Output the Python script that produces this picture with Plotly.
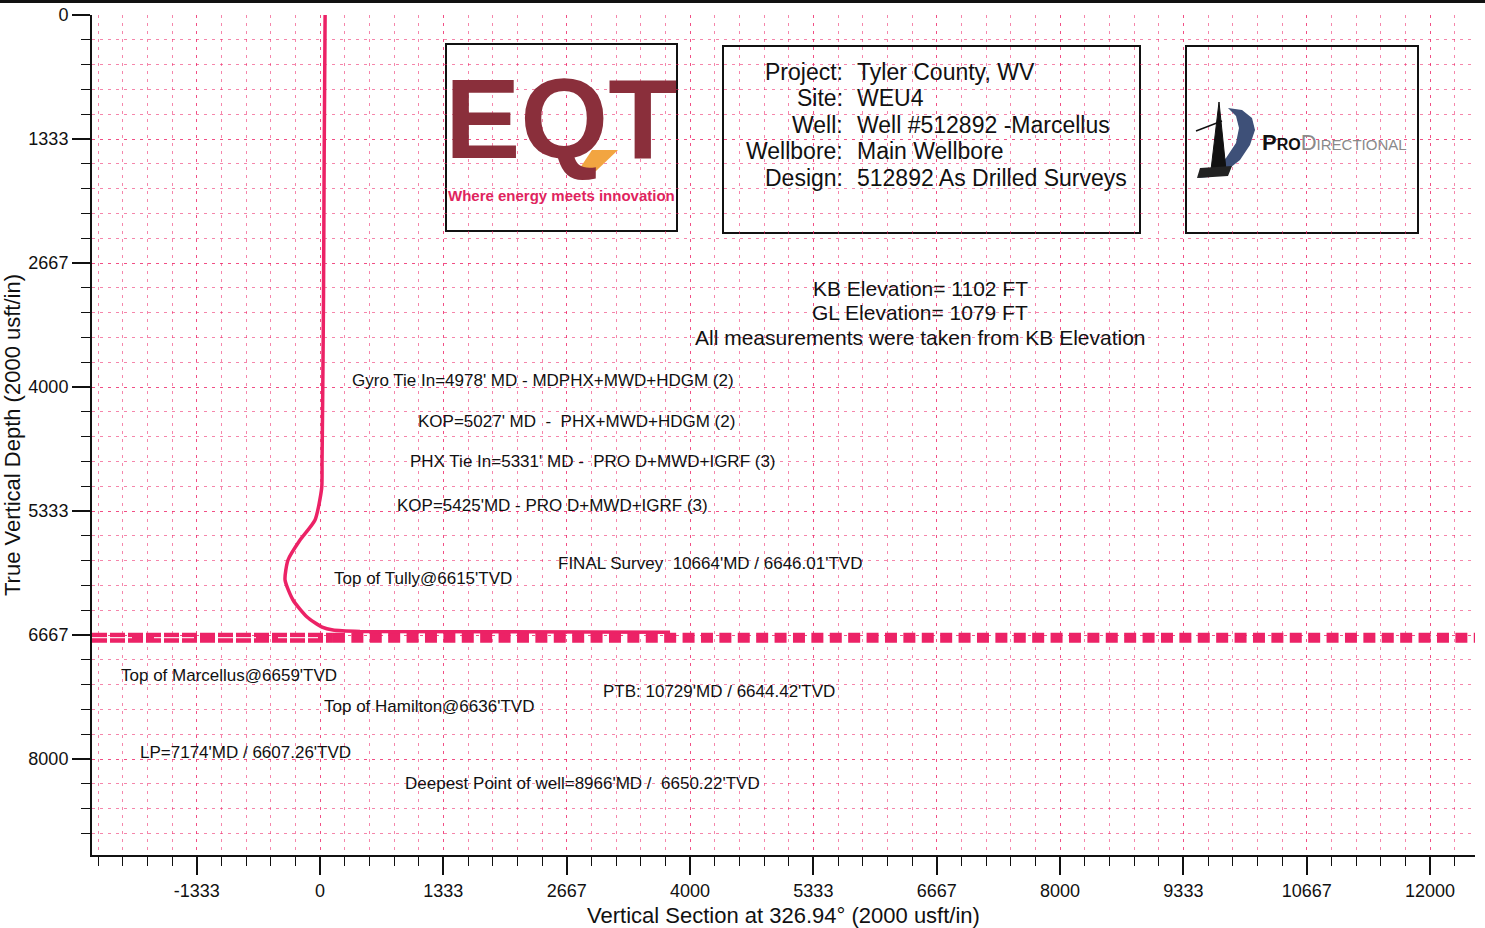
import plotly.graph_objects as go

# ---------------- data ----------------
well_vs = [55, 45, 38, 30, 22, 18, -54, -216, -346, -378, -292, -140, 22, 140, 432, 3784]
well_tvd = [0, 1500, 3000, 4000, 4800, 5086, 5430, 5645, 5860, 6075, 6290, 6473, 6581, 6613, 6628, 6638]

target_tvd = 6695
target_split_vs = 140

x_tick_vals = [-1333.33, 0, 1333.33, 2666.67, 4000, 5333.33, 6666.67, 8000, 9333.33, 10666.67, 12000]
x_tick_text = ["-1333", "0", "1333", "2667", "4000", "5333", "6667", "8000", "9333", "10667", "12000"]
y_tick_vals = [0, 1333.33, 2666.67, 4000, 5333.33, 6666.67, 8000]
y_tick_text = ["0", "1333", "2667", "4000", "5333", "6667", "8000"]

x_range = [-2465, 12486]
y_range = [9032, 0]

well_labels = [
    ("Gyro Tie In=4978' MD - MDPHX+MWD+HDGM (2)", 324, 3935),
    ("KOP=5027' MD  -  PHX+MWD+HDGM (2)", 1038, 4366),
    ("PHX Tie In=5331' MD -  PRO D+MWD+IGRF (3)", 951, 4796),
    ("KOP=5425'MD - PRO D+MWD+IGRF (3)", 811, 5269),
    ("FINAL Survey  10664'MD / 6646.01'TVD", 2551, 5903),
    ("Top of Tully@6615'TVD", 130, 6054),
    ("Top of Marcellus@6659'TVD", -2173, 7097),
    ("Top of Hamilton@6636'TVD", 22, 7430),
    ("PTB: 10729'MD / 6644.42'TVD", 3038, 7269),
    ("LP=7174'MD / 6607.26'TVD", -1968, 7935),
    ("Deepest Point of well=8966'MD /  6650.22'TVD", 897, 8258),
]

elev_lines = ["KB Elevation= 1102 FT", "GL Elevation= 1079 FT", "All measurements were taken from KB Elevation"]
info_keys = ["Project:", "Site:", "Well:", "Wellbore:", "Design:"]
info_vals = ["Tyler County, WV", "WEU4", "Well #512892 -Marcellus", "Main Wellbore", "512892 As Drilled Surveys"]

# ---------------- styling / layout helpers ----------------
W, H = 1485, 928
L, R, T, B = 92, 1475, 15, 855
PINK = "#EC2266"
GRID = "rgba(236,34,102,0.55)"
FONT = "Liberation Sans, Arial, sans-serif"


def px(p):
    return (p - L) / (R - L)


def py(p):
    return (B - p) / (B - T)


def path(pts):
    return "M " + " L ".join(f"{px(a):.5f} {py(b):.5f}" for a, b in pts) + " Z"


fig = go.Figure()

# target / formation line (left part)
fig.add_trace(go.Scatter(x=[x_range[0], target_split_vs], y=[target_tvd, target_tvd], mode="lines",
                         line=dict(color=PINK, width=10, dash="15px,3px"), hoverinfo="skip", showlegend=False))
fig.add_trace(go.Scatter(x=[x_range[0], target_split_vs], y=[target_tvd, target_tvd], mode="lines",
                         line=dict(color="rgba(255,255,255,0.85)", width=1.2, dash="40px,22px"),
                         hoverinfo="skip", showlegend=False))
# target line (right part, square dashes)
fig.add_trace(go.Scatter(x=[target_split_vs, x_range[1]], y=[target_tvd, target_tvd], mode="lines",
                         line=dict(color=PINK, width=10, dash="12px,6.4px"), hoverinfo="skip", showlegend=False))
# well path
fig.add_trace(go.Scatter(x=well_vs, y=well_tvd, mode="lines",
                         line=dict(color=PINK, width=3.5, shape="spline", smoothing=0.6),
                         hoverinfo="skip", showlegend=False))

annotations = []
for txt, xv, yv in well_labels:
    annotations.append(dict(x=xv, y=yv, xref="x", yref="y", text=txt, showarrow=False,
                            xanchor="left", yanchor="middle", font=dict(family=FONT, size=17, color="#111")))

for txt, yp in zip(elev_lines, [289, 313, 337]):
    annotations.append(dict(x=px(920), y=py(yp), xref="paper", yref="paper", text=txt, showarrow=False,
                            xanchor="center", yanchor="middle", font=dict(family=FONT, size=21, color="#111")))

for k, v, yp in zip(info_keys, info_vals, [72, 98, 125, 151, 178]):
    annotations.append(dict(x=px(845), y=py(yp), xref="paper", yref="paper", text=k, showarrow=False,
                            xanchor="right", yanchor="middle", font=dict(family=FONT, size=23, color="#111")))
    annotations.append(dict(x=px(855), y=py(yp), xref="paper", yref="paper", text=v, showarrow=False,
                            xanchor="left", yanchor="middle", font=dict(family=FONT, size=23, color="#111")))

# EQT logo
annotations.append(dict(x=px(561), y=py(119), xref="paper", yref="paper", text="<b>EQT</b>", showarrow=False,
                        xanchor="center", yanchor="middle",
                        font=dict(family=FONT, size=113, color="#8A2F3B")))
annotations.append(dict(x=px(561), y=py(195), xref="paper", yref="paper", text="<b>Where energy meets innovation</b>",
                        showarrow=False, xanchor="center", yanchor="middle",
                        font=dict(family=FONT, size=15, color="#E0245E")))

# ProDirectional logo
annotations.append(dict(x=px(1260), y=py(142), xref="paper", yref="paper",
                        text="<b>P<span style='font-size:16px'>RO</span></b><span style='color:#8a8a8a'>D<span style='font-size:15px'>IRECTIONAL</span></span>",
                        showarrow=False, xanchor="left", yanchor="middle",
                        font=dict(family=FONT, size=22, color="#111")))

shapes = [
    # top scan border
    dict(type="line", xref="paper", yref="paper", x0=px(0), x1=px(W), y0=py(1.5), y1=py(1.5),
         line=dict(color="#111", width=3)),
    # EQT box
    dict(type="rect", xref="paper", yref="paper", x0=px(446), x1=px(677), y0=py(231), y1=py(44),
         line=dict(color="#111", width=2), fillcolor="white", layer="below"),
    # info box
    dict(type="rect", xref="paper", yref="paper", x0=px(723), x1=px(1140), y0=py(233), y1=py(46),
         line=dict(color="#111", width=2), fillcolor="white", layer="below"),
    # ProDirectional box
    dict(type="rect", xref="paper", yref="paper", x0=px(1186), x1=px(1418), y0=py(233), y1=py(46),
         line=dict(color="#111", width=2), fillcolor="white", layer="below"),
    # EQT orange chevron
    dict(type="path", xref="paper", yref="paper", path=path([(592, 150), (618, 150), (596, 171), (578, 171)]),
         fillcolor="#F2A541", line=dict(width=0)),
    # ProDirectional swoosh D
    dict(type="path", xref="paper", yref="paper",
         path=path([(1228, 108), (1242, 110), (1252, 118), (1255, 130), (1250, 145), (1240, 160),
                    (1226, 171), (1210, 177), (1198, 178), (1212, 170), (1226, 158), (1236, 143),
                    (1239, 128), (1236, 116)]),
         fillcolor="#3E5078", line=dict(width=0)),
    # derrick
    dict(type="path", xref="paper", yref="paper", path=path([(1219, 102), (1226, 170), (1211, 170)]),
         fillcolor="#111", line=dict(color="#111", width=1)),
    dict(type="path", xref="paper", yref="paper", path=path([(1200, 168), (1232, 166), (1228, 176), (1197, 178)]),
         fillcolor="#222", line=dict(width=0)),
    dict(type="line", xref="paper", yref="paper", x0=px(1196), y0=py(131), x1=px(1222), y1=py(121),
         line=dict(color="#111", width=1.5)),
]

axis_common = dict(
    showline=True, linecolor="#111", linewidth=2, mirror=False, automargin=False,
    ticks="outside", ticklen=18, tickwidth=1.5, tickcolor="#111",
    showgrid=True, gridcolor=GRID, gridwidth=1, griddash="3px,5px",
    zeroline=False, tickmode="array",
    tickfont=dict(family=FONT, size=18, color="#111"),
)

minor_common = dict(tickmode="linear", tick0=0, dtick=266.667, ticks="outside", ticklen=9,
                    tickcolor="#111", tickwidth=1, showgrid=True, gridcolor=GRID, griddash="3px,5px")

fig.update_layout(
    width=W, height=H,
    margin=dict(l=L, r=W - R, t=T, b=H - B, autoexpand=False),
    paper_bgcolor="white", plot_bgcolor="white",
    xaxis=dict(range=x_range, tickvals=x_tick_vals, ticktext=x_tick_text, minor=minor_common,
               title=dict(text="Vertical Section at 326.94° (2000 usft/in)", standoff=9,
                          font=dict(family=FONT, size=22, color="#111")),
               **axis_common),
    yaxis=dict(range=y_range, tickvals=y_tick_vals, ticktext=y_tick_text, minor=minor_common,
               title=dict(text="True Vertical Depth (2000 usft/in)", standoff=2,
                          font=dict(family=FONT, size=22, color="#111")),
               **axis_common),
    annotations=annotations,
    shapes=shapes,
)

fig.write_html("out.html", config={"displayModeBar": False},
               post_script="document.body.style.margin='0';document.body.style.overflow='hidden';")
